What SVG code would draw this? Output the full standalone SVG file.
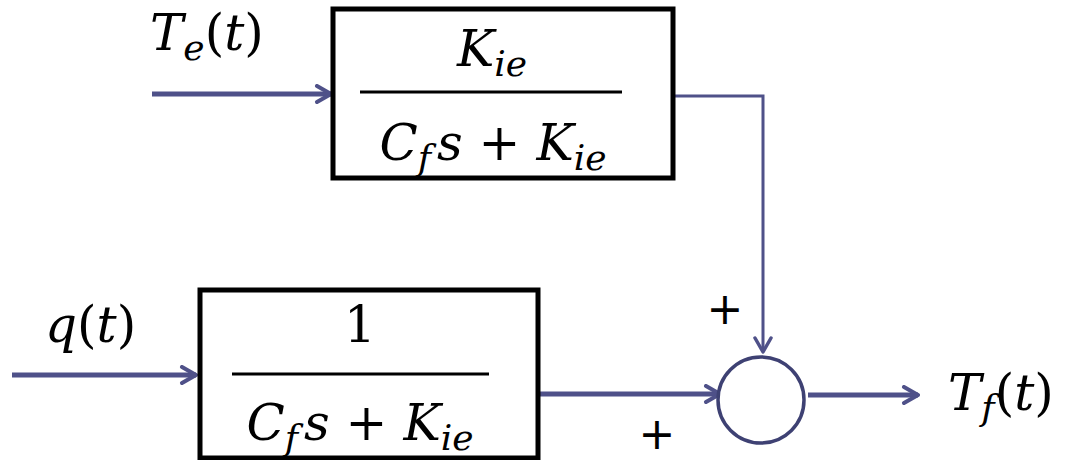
<svg xmlns="http://www.w3.org/2000/svg" width="1065" height="460" viewBox="0 0 1065 460">
<style>
.box{fill:#fff;stroke:#000;stroke-width:5}
.bar{stroke:#000;stroke-width:3}
.m{font-family:"DejaVu Serif","Liberation Serif",serif;font-style:italic;font-size:50px;fill:#000}
.r{font-style:normal}
.sub{font-size:36px}
.w{stroke:#4F5189;stroke-width:5;fill:none}
.thin{stroke:#4F5189;stroke-width:3;fill:none}
.pl{font-family:"DejaVu Sans","Liberation Sans",sans-serif;font-size:44px;fill:#000}
</style>
<defs>
<marker id="ah" viewBox="0 0 20 20" refX="18" refY="10" markerWidth="20" markerHeight="20" markerUnits="userSpaceOnUse" orient="auto">
<path d="M4,2 L18,10 L4,18" fill="none" stroke="#4F5189" stroke-width="4" stroke-linecap="round" stroke-linejoin="round"/>
</marker>
<marker id="ahs" viewBox="0 0 20 20" refX="18" refY="10" markerWidth="20" markerHeight="20" markerUnits="userSpaceOnUse" orient="auto">
<path d="M4,2 L18,10 L4,18" fill="none" stroke="#4F5189" stroke-width="3.5" stroke-linecap="round" stroke-linejoin="round"/>
</marker>
</defs>
<g id="connectors">
<line class="w" x1="152" y1="94" x2="331" y2="94" marker-end="url(#ah)"/>
<line class="w" x1="12" y1="375" x2="196" y2="375" marker-end="url(#ah)"/>
<line class="w" x1="538" y1="394" x2="720" y2="394" marker-end="url(#ah)"/>
<polyline class="thin" points="666,96 763,96 763,352" marker-end="url(#ahs)"/>
<line class="w" x1="808" y1="395" x2="918" y2="395" marker-end="url(#ah)"/>
</g>
<g id="te-label"><text class="m" x="150" y="50">T<tspan class="sub" dy="10">e</tspan><tspan class="r" dy="-10">(</tspan>t<tspan class="r">)</tspan></text></g>
<g id="q-label"><text class="m" x="45" y="342">q<tspan class="r">(</tspan>t<tspan class="r">)</tspan></text></g>
<g id="tf-label"><text class="m" x="948" y="410">T<tspan class="sub" dy="10">f</tspan><tspan class="r" dy="-10">(</tspan>t<tspan class="r">)</tspan></text></g>
<g id="block-top">
<rect class="box" x="333" y="9" width="340" height="169"/>
<line class="bar" x1="360" y1="92" x2="622" y2="92"/>
<text class="m" x="492" y="66" text-anchor="middle">K<tspan class="sub" dy="10">ie</tspan></text>
<text class="m" x="493" y="160" text-anchor="middle">C<tspan class="sub" dy="10">f</tspan><tspan dx="6" dy="-10">s </tspan><tspan class="r">+</tspan> K<tspan class="sub" dy="10">ie</tspan></text>
</g>
<g id="block-bottom">
<rect class="box" x="200" y="290" width="338" height="168"/>
<line class="bar" x1="232" y1="374" x2="489" y2="374"/>
<text class="m r" x="360" y="342" text-anchor="middle">1</text>
<text class="m" x="360" y="440" text-anchor="middle">C<tspan class="sub" dy="10">f</tspan><tspan dx="6" dy="-10">s </tspan><tspan class="r">+</tspan> K<tspan class="sub" dy="10">ie</tspan></text>
</g>
<g id="sum">
<circle cx="761" cy="400" r="43" fill="#fff" stroke="#3E4173" stroke-width="3.5"/>
<text class="pl" x="725" y="324" text-anchor="middle">+</text>
<text class="pl" x="657" y="449" text-anchor="middle">+</text>
</g>
</svg>
